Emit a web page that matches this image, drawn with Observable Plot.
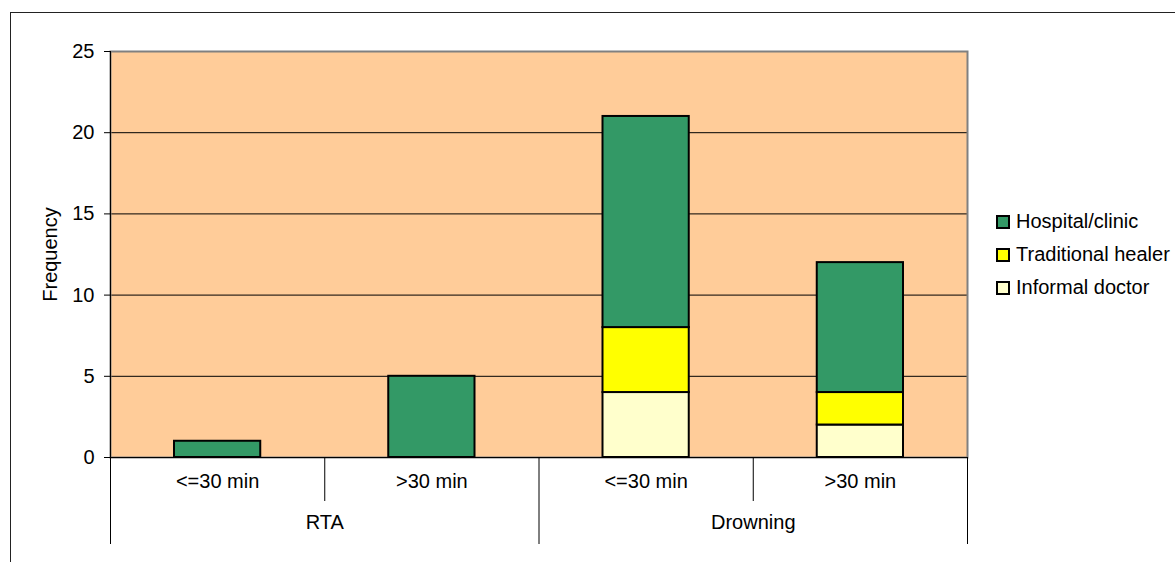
<!DOCTYPE html>
<html>
<head>
<meta charset="utf-8">
<script src="https://cdn.jsdelivr.net/npm/d3@7"></script>
<script src="https://cdn.jsdelivr.net/npm/@observablehq/plot@0.6"></script>
<style>
  html, body { margin: 0; padding: 0; background: #ffffff; }
  #chart { position: relative; width: 1175px; height: 562px; overflow: hidden; font-family: "Liberation Sans", Arial, sans-serif; }
  #outline { position: absolute; left: 10px; top: 12px; width: 1200px; height: 600px; border-left: 1px solid #222; border-top: 1px solid #222; }
  #legend { position: absolute; left: 996px; top: 205px; font-size: 20px; color: #000; }
  #legend .row { display: flex; align-items: center; height: 33px; white-space: nowrap; }
  #legend .swatch { width: 14px; height: 14px; box-sizing: border-box; border: 2px solid #000; margin-right: 6px; }
</style>
</head>
<body>
<div id="chart"><div id="outline"></div></div>
<script>
// Time to care, by cause of injury
const categories = ["<=30 min", ">30 min", "<=30 min", ">30 min"];
const groups = ["RTA", "RTA", "Drowning", "Drowning"];
const informal = [0, 0, 4, 2];
const traditional = [0, 0, 4, 2];
const hospital = [1, 5, 13, 8];
const seriesNames = ["Informal doctor", "Traditional healer", "Hospital/clinic"];
const seriesColors = ["#FFFFCC", "#FFFF00", "#339966"];
const legendOrder = ["Hospital/clinic", "Traditional healer", "Informal doctor"];
const yTicks = [0, 5, 10, 15, 20, 25];
const gridValues = [5, 10, 15, 20];

// one row per stacked segment, bottom series first
const seriesValues = [informal, traditional, hospital];
const rows = categories.flatMap((c, i) =>
  seriesValues.map((vals, k) => ({pos: i, type: seriesNames[k], value: vals[i]}))
).filter(d => d.value > 0);

const catRows = categories.map((label, i) => ({pos: i, label}));

// group spans along the category axis
const groupRows = [];
groups.forEach((g, i) => {
  const last = groupRows[groupRows.length - 1];
  if (last && last.name === g) last.end = i + 1;
  else groupRows.push({name: g, start: i, end: i + 1});
});
const groupEdges = [0, ...groupRows.map(g => g.end)];
const innerEdges = d3.range(1, categories.length).filter(e => !groupEdges.includes(e));

const plot = Plot.plot({
  width: 1175,
  height: 562,
  marginLeft: 110,
  marginRight: 208,
  marginTop: 51,
  marginBottom: 105,
  style: {fontFamily: "'Liberation Sans', Arial, sans-serif", fontSize: "20px", background: "transparent", color: "#000"},
  x: {domain: [0, categories.length], axis: null},
  y: {domain: [0, 25], axis: null},
  color: {domain: seriesNames, range: seriesColors},
  marks: [
    Plot.frame({fill: "#FFCC99"}),
    Plot.ruleY(gridValues, {stroke: "#000", strokeWidth: 1}),
    Plot.frame({stroke: "#808080", strokeWidth: 2}),
    Plot.rectY(rows, {
      x1: "pos", x2: d => d.pos + 1, y: "value",
      fill: "type", stroke: "#000", strokeWidth: 2,
      insetLeft: 64, insetRight: 64
    }),
    Plot.ruleX([0], {stroke: "#000", strokeWidth: 1}),
    Plot.ruleY([0], {stroke: "#000", strokeWidth: 1}),
    Plot.axisY({ticks: yTicks, tickSize: 6, tickPadding: 10, fontSize: 20, label: null, tickFormat: d => d}),
    Plot.text(["Frequency"], {frameAnchor: "left", textAnchor: "middle", dx: -60, rotate: -90, fontSize: 20}),
    // category dividers below the axis
    Plot.ruleX(innerEdges, {y1: 0, y2: 0, insetBottom: -44, stroke: "#000", strokeWidth: 1}),
    Plot.ruleX(groupEdges, {y1: 0, y2: 0, insetBottom: -87, stroke: "#000", strokeWidth: 1}),
    Plot.text(catRows, {x: d => d.pos + 0.5, text: "label", frameAnchor: "bottom", dy: 30, fontSize: 20}),
    Plot.text(groupRows, {x: d => (d.start + d.end) / 2, text: "name", frameAnchor: "bottom", dy: 71, fontSize: 20})
  ]
});

const chart = document.getElementById("chart");
chart.insertBefore(plot, chart.firstChild);
plot.style.position = "absolute";
plot.style.left = "0px";
plot.style.top = "0px";

// legend
const legend = document.createElement("div");
legend.id = "legend";
legendOrder.forEach(name => {
  const row = document.createElement("div");
  row.className = "row";
  const sw = document.createElement("span");
  sw.className = "swatch";
  sw.style.background = seriesColors[seriesNames.indexOf(name)];
  const label = document.createElement("span");
  label.textContent = name;
  row.appendChild(sw);
  row.appendChild(label);
  legend.appendChild(row);
});
chart.appendChild(legend);
</script>
</body>
</html>
